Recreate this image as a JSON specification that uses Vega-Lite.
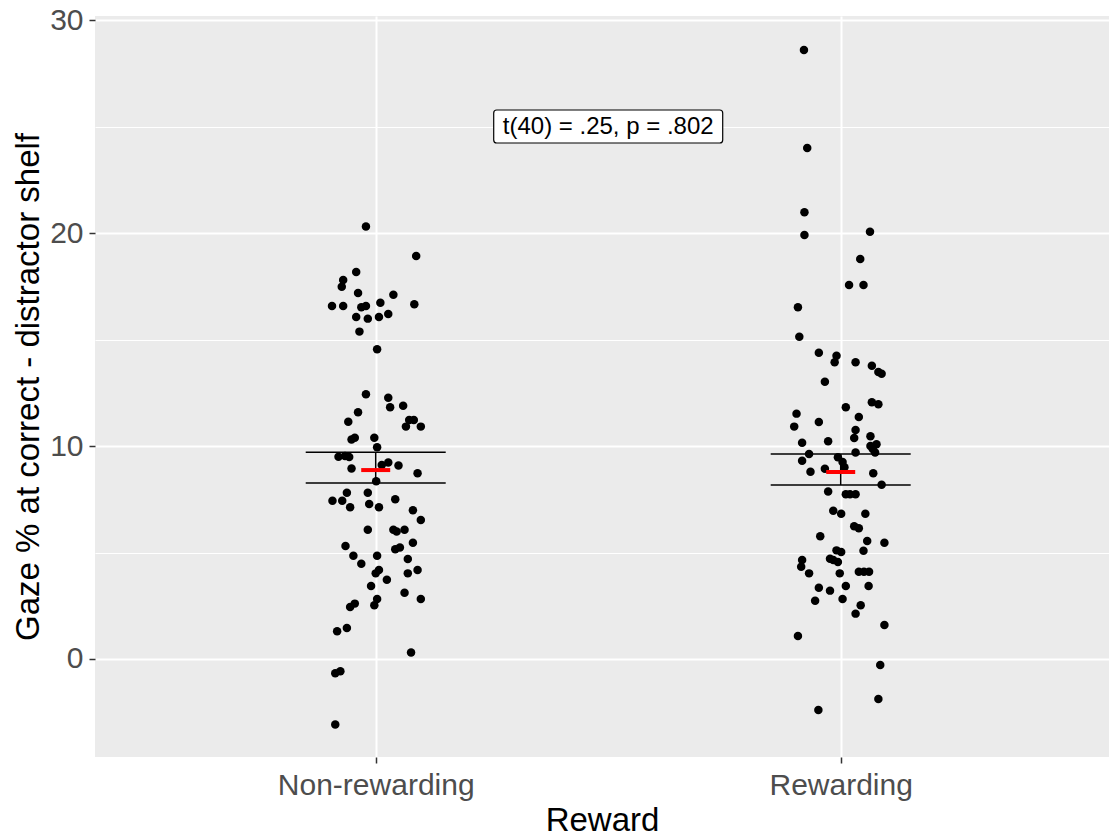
{
  "$schema": "https://vega.github.io/schema/vega-lite/v6.json",
  "width": 1014,
  "height": 741,
  "autosize": {"type": "none"},
  "padding": {"left": 95, "top": 16, "right": 0, "bottom": 79},
  "background": "white",
  "config": {
    "view": {"fill": "#EBEBEB", "stroke": null},
    "font": "Liberation Sans",
    "axis": {
      "labelFont": "Liberation Sans",
      "titleFont": "Liberation Sans",
      "labelColor": "#4D4D4D",
      "labelFontSize": 30,
      "labelLimit": 0,
      "titleFontSize": 33,
      "titleFontWeight": "normal",
      "titleColor": "#000000",
      "tickColor": "#333333",
      "tickSize": 6,
      "tickWidth": 1.5,
      "domain": false,
      "grid": true,
      "gridColor": "#FFFFFF",
      "gridWidth": 2,
      "gridOpacity": 1
    }
  },
  "datasets": {
    "gaze": [
      {"reward": "Non-rewarding", "pos": 0.979, "gaze": 20.30},
      {"reward": "Non-rewarding", "pos": 1.087, "gaze": 18.92},
      {"reward": "Non-rewarding", "pos": 0.958, "gaze": 18.17},
      {"reward": "Non-rewarding", "pos": 0.930, "gaze": 17.79},
      {"reward": "Non-rewarding", "pos": 0.927, "gaze": 17.48},
      {"reward": "Non-rewarding", "pos": 0.962, "gaze": 17.18},
      {"reward": "Non-rewarding", "pos": 1.038, "gaze": 17.10},
      {"reward": "Non-rewarding", "pos": 0.906, "gaze": 16.57},
      {"reward": "Non-rewarding", "pos": 0.930, "gaze": 16.57},
      {"reward": "Non-rewarding", "pos": 0.969, "gaze": 16.51},
      {"reward": "Non-rewarding", "pos": 0.979, "gaze": 16.57},
      {"reward": "Non-rewarding", "pos": 1.010, "gaze": 16.73},
      {"reward": "Non-rewarding", "pos": 1.083, "gaze": 16.65},
      {"reward": "Non-rewarding", "pos": 0.958, "gaze": 16.06},
      {"reward": "Non-rewarding", "pos": 0.983, "gaze": 15.98},
      {"reward": "Non-rewarding", "pos": 1.007, "gaze": 16.06},
      {"reward": "Non-rewarding", "pos": 1.027, "gaze": 16.20},
      {"reward": "Non-rewarding", "pos": 0.965, "gaze": 15.37},
      {"reward": "Non-rewarding", "pos": 1.003, "gaze": 14.54},
      {"reward": "Non-rewarding", "pos": 0.979, "gaze": 12.43},
      {"reward": "Non-rewarding", "pos": 1.027, "gaze": 12.27},
      {"reward": "Non-rewarding", "pos": 1.031, "gaze": 11.82},
      {"reward": "Non-rewarding", "pos": 1.059, "gaze": 11.89},
      {"reward": "Non-rewarding", "pos": 0.962, "gaze": 11.58},
      {"reward": "Non-rewarding", "pos": 0.941, "gaze": 11.14},
      {"reward": "Non-rewarding", "pos": 1.072, "gaze": 11.22},
      {"reward": "Non-rewarding", "pos": 1.082, "gaze": 11.22},
      {"reward": "Non-rewarding", "pos": 1.065, "gaze": 10.91},
      {"reward": "Non-rewarding", "pos": 1.097, "gaze": 10.91},
      {"reward": "Non-rewarding", "pos": 0.948, "gaze": 10.31},
      {"reward": "Non-rewarding", "pos": 0.955, "gaze": 10.39},
      {"reward": "Non-rewarding", "pos": 0.997, "gaze": 10.39},
      {"reward": "Non-rewarding", "pos": 1.003, "gaze": 9.94},
      {"reward": "Non-rewarding", "pos": 0.920, "gaze": 9.50},
      {"reward": "Non-rewarding", "pos": 0.934, "gaze": 9.53},
      {"reward": "Non-rewarding", "pos": 0.943, "gaze": 9.48},
      {"reward": "Non-rewarding", "pos": 0.948, "gaze": 8.94},
      {"reward": "Non-rewarding", "pos": 1.013, "gaze": 9.11},
      {"reward": "Non-rewarding", "pos": 1.027, "gaze": 9.23},
      {"reward": "Non-rewarding", "pos": 1.049, "gaze": 9.09},
      {"reward": "Non-rewarding", "pos": 1.090, "gaze": 8.72},
      {"reward": "Non-rewarding", "pos": 1.001, "gaze": 8.34},
      {"reward": "Non-rewarding", "pos": 0.938, "gaze": 7.81},
      {"reward": "Non-rewarding", "pos": 0.983, "gaze": 7.81},
      {"reward": "Non-rewarding", "pos": 0.907, "gaze": 7.43},
      {"reward": "Non-rewarding", "pos": 0.928, "gaze": 7.43},
      {"reward": "Non-rewarding", "pos": 1.042, "gaze": 7.50},
      {"reward": "Non-rewarding", "pos": 0.945, "gaze": 7.12},
      {"reward": "Non-rewarding", "pos": 0.986, "gaze": 7.28},
      {"reward": "Non-rewarding", "pos": 1.007, "gaze": 7.12},
      {"reward": "Non-rewarding", "pos": 1.080, "gaze": 6.98},
      {"reward": "Non-rewarding", "pos": 1.097, "gaze": 6.53},
      {"reward": "Non-rewarding", "pos": 0.983, "gaze": 6.07},
      {"reward": "Non-rewarding", "pos": 1.038, "gaze": 6.07},
      {"reward": "Non-rewarding", "pos": 1.045, "gaze": 5.99},
      {"reward": "Non-rewarding", "pos": 1.062, "gaze": 6.07},
      {"reward": "Non-rewarding", "pos": 1.080, "gaze": 5.46},
      {"reward": "Non-rewarding", "pos": 1.042, "gaze": 5.15},
      {"reward": "Non-rewarding", "pos": 1.052, "gaze": 5.24},
      {"reward": "Non-rewarding", "pos": 0.935, "gaze": 5.31},
      {"reward": "Non-rewarding", "pos": 0.952, "gaze": 4.85},
      {"reward": "Non-rewarding", "pos": 1.003, "gaze": 4.85},
      {"reward": "Non-rewarding", "pos": 1.069, "gaze": 4.69},
      {"reward": "Non-rewarding", "pos": 0.969, "gaze": 4.47},
      {"reward": "Non-rewarding", "pos": 1.007, "gaze": 4.18},
      {"reward": "Non-rewarding", "pos": 1.000, "gaze": 4.02},
      {"reward": "Non-rewarding", "pos": 1.090, "gaze": 4.18},
      {"reward": "Non-rewarding", "pos": 1.069, "gaze": 4.02},
      {"reward": "Non-rewarding", "pos": 1.024, "gaze": 3.72},
      {"reward": "Non-rewarding", "pos": 0.990, "gaze": 3.43},
      {"reward": "Non-rewarding", "pos": 1.062, "gaze": 3.11},
      {"reward": "Non-rewarding", "pos": 1.097, "gaze": 2.82},
      {"reward": "Non-rewarding", "pos": 1.003, "gaze": 2.82},
      {"reward": "Non-rewarding", "pos": 0.997, "gaze": 2.52},
      {"reward": "Non-rewarding", "pos": 0.955, "gaze": 2.60},
      {"reward": "Non-rewarding", "pos": 0.945, "gaze": 2.44},
      {"reward": "Non-rewarding", "pos": 0.938, "gaze": 1.46},
      {"reward": "Non-rewarding", "pos": 0.917, "gaze": 1.30},
      {"reward": "Non-rewarding", "pos": 1.076, "gaze": 0.31},
      {"reward": "Non-rewarding", "pos": 0.924, "gaze": -0.58},
      {"reward": "Non-rewarding", "pos": 0.913, "gaze": -0.67},
      {"reward": "Non-rewarding", "pos": 0.913, "gaze": -3.08},
      {"reward": "Rewarding", "pos": 1.921, "gaze": 28.59},
      {"reward": "Rewarding", "pos": 1.928, "gaze": 23.99},
      {"reward": "Rewarding", "pos": 1.922, "gaze": 20.97},
      {"reward": "Rewarding", "pos": 1.922, "gaze": 19.91},
      {"reward": "Rewarding", "pos": 2.063, "gaze": 20.06},
      {"reward": "Rewarding", "pos": 2.042, "gaze": 18.78},
      {"reward": "Rewarding", "pos": 2.018, "gaze": 17.56},
      {"reward": "Rewarding", "pos": 2.049, "gaze": 17.56},
      {"reward": "Rewarding", "pos": 1.908, "gaze": 16.51},
      {"reward": "Rewarding", "pos": 1.911, "gaze": 15.13},
      {"reward": "Rewarding", "pos": 1.953, "gaze": 14.38},
      {"reward": "Rewarding", "pos": 1.991, "gaze": 14.24},
      {"reward": "Rewarding", "pos": 1.987, "gaze": 13.93},
      {"reward": "Rewarding", "pos": 2.032, "gaze": 13.93},
      {"reward": "Rewarding", "pos": 2.067, "gaze": 13.77},
      {"reward": "Rewarding", "pos": 2.081, "gaze": 13.47},
      {"reward": "Rewarding", "pos": 2.088, "gaze": 13.39},
      {"reward": "Rewarding", "pos": 1.966, "gaze": 13.02},
      {"reward": "Rewarding", "pos": 2.067, "gaze": 12.05},
      {"reward": "Rewarding", "pos": 2.081, "gaze": 11.96},
      {"reward": "Rewarding", "pos": 2.011, "gaze": 11.82},
      {"reward": "Rewarding", "pos": 1.905, "gaze": 11.52},
      {"reward": "Rewarding", "pos": 2.039, "gaze": 11.36},
      {"reward": "Rewarding", "pos": 1.900, "gaze": 10.91},
      {"reward": "Rewarding", "pos": 1.953, "gaze": 11.13},
      {"reward": "Rewarding", "pos": 2.032, "gaze": 10.75},
      {"reward": "Rewarding", "pos": 2.029, "gaze": 10.38},
      {"reward": "Rewarding", "pos": 2.064, "gaze": 10.46},
      {"reward": "Rewarding", "pos": 1.917, "gaze": 10.15},
      {"reward": "Rewarding", "pos": 1.973, "gaze": 10.22},
      {"reward": "Rewarding", "pos": 2.064, "gaze": 10.00},
      {"reward": "Rewarding", "pos": 2.077, "gaze": 10.08},
      {"reward": "Rewarding", "pos": 2.069, "gaze": 9.86},
      {"reward": "Rewarding", "pos": 1.932, "gaze": 9.62},
      {"reward": "Rewarding", "pos": 2.032, "gaze": 9.70},
      {"reward": "Rewarding", "pos": 2.074, "gaze": 9.70},
      {"reward": "Rewarding", "pos": 1.917, "gaze": 9.31},
      {"reward": "Rewarding", "pos": 1.994, "gaze": 9.47},
      {"reward": "Rewarding", "pos": 2.004, "gaze": 9.25},
      {"reward": "Rewarding", "pos": 2.008, "gaze": 9.00},
      {"reward": "Rewarding", "pos": 1.966, "gaze": 8.93},
      {"reward": "Rewarding", "pos": 1.935, "gaze": 8.79},
      {"reward": "Rewarding", "pos": 2.070, "gaze": 8.72},
      {"reward": "Rewarding", "pos": 2.088, "gaze": 8.18},
      {"reward": "Rewarding", "pos": 1.973, "gaze": 7.86},
      {"reward": "Rewarding", "pos": 2.011, "gaze": 7.73},
      {"reward": "Rewarding", "pos": 2.020, "gaze": 7.73},
      {"reward": "Rewarding", "pos": 2.032, "gaze": 7.73},
      {"reward": "Rewarding", "pos": 1.984, "gaze": 6.96},
      {"reward": "Rewarding", "pos": 2.001, "gaze": 6.82},
      {"reward": "Rewarding", "pos": 2.053, "gaze": 6.82},
      {"reward": "Rewarding", "pos": 2.029, "gaze": 6.23},
      {"reward": "Rewarding", "pos": 2.039, "gaze": 6.14},
      {"reward": "Rewarding", "pos": 1.956, "gaze": 5.76},
      {"reward": "Rewarding", "pos": 2.057, "gaze": 5.54},
      {"reward": "Rewarding", "pos": 2.094, "gaze": 5.46},
      {"reward": "Rewarding", "pos": 1.991, "gaze": 5.10},
      {"reward": "Rewarding", "pos": 2.001, "gaze": 5.02},
      {"reward": "Rewarding", "pos": 2.049, "gaze": 5.08},
      {"reward": "Rewarding", "pos": 1.917, "gaze": 4.65},
      {"reward": "Rewarding", "pos": 1.977, "gaze": 4.71},
      {"reward": "Rewarding", "pos": 1.984, "gaze": 4.65},
      {"reward": "Rewarding", "pos": 1.994, "gaze": 4.55},
      {"reward": "Rewarding", "pos": 1.915, "gaze": 4.33},
      {"reward": "Rewarding", "pos": 1.932, "gaze": 4.02},
      {"reward": "Rewarding", "pos": 1.998, "gaze": 4.02},
      {"reward": "Rewarding", "pos": 2.039, "gaze": 4.10},
      {"reward": "Rewarding", "pos": 2.050, "gaze": 4.10},
      {"reward": "Rewarding", "pos": 2.061, "gaze": 4.10},
      {"reward": "Rewarding", "pos": 1.953, "gaze": 3.35},
      {"reward": "Rewarding", "pos": 1.977, "gaze": 3.21},
      {"reward": "Rewarding", "pos": 2.011, "gaze": 3.43},
      {"reward": "Rewarding", "pos": 2.060, "gaze": 3.43},
      {"reward": "Rewarding", "pos": 1.945, "gaze": 2.74},
      {"reward": "Rewarding", "pos": 2.004, "gaze": 2.82},
      {"reward": "Rewarding", "pos": 2.043, "gaze": 2.52},
      {"reward": "Rewarding", "pos": 2.032, "gaze": 2.13},
      {"reward": "Rewarding", "pos": 2.094, "gaze": 1.60},
      {"reward": "Rewarding", "pos": 1.908, "gaze": 1.08},
      {"reward": "Rewarding", "pos": 2.085, "gaze": -0.28},
      {"reward": "Rewarding", "pos": 2.081, "gaze": -1.88},
      {"reward": "Rewarding", "pos": 1.952, "gaze": -2.39}
    ],
    "summary": [
      {"reward": "Non-rewarding", "pos": 1, "mean": 8.87, "lower": 8.26, "upper": 9.71},
      {"reward": "Rewarding", "pos": 2, "mean": 8.78, "lower": 8.17, "upper": 9.62}
    ],
    "stats": [
      {"label": "t(40) = .25, p = .802"}
    ]
  },
  "resolve": {"axis": {"y": "independent"}},
  "layer": [
    {
      "data": {"name": "gaze"},
      "mark": {"type": "point", "filled": true, "color": "#000000", "opacity": 1, "size": 72},
      "encoding": {
        "x": {
          "field": "pos",
          "type": "quantitative",
          "scale": {"domain": [0.3963, 2.577], "nice": false, "zero": false},
          "axis": {
            "values": [1, 2],
            "labelExpr": "datum.value == 1 ? 'Non-rewarding' : 'Rewarding'",
            "title": "Reward",
            "labelPadding": 7,
            "titlePadding": 4
          }
        },
        "y": {
          "field": "gaze",
          "type": "quantitative",
          "scale": {"domain": [-4.601, 30.188], "nice": false, "zero": false},
          "axis": {
            "values": [0, 10, 20, 30],
            "title": "Gaze % at correct - distractor shelf",
            "labelPadding": 6,
            "titlePadding": 4
          }
        }
      }
    },
    {
      "data": {"name": "summary"},
      "mark": {"type": "rule", "color": "#000000", "strokeWidth": 1.5},
      "encoding": {
        "x": {"field": "pos", "type": "quantitative"},
        "y": {
          "field": "lower",
          "type": "quantitative",
          "axis": {
            "orient": "right",
            "values": [5, 15, 25],
            "grid": true,
            "gridWidth": 1,
            "labels": false,
            "ticks": false,
            "domain": false,
            "title": null
          }
        },
        "y2": {"field": "upper"}
      }
    },
    {
      "data": {"name": "summary"},
      "mark": {"type": "tick", "orient": "horizontal", "color": "#000000", "size": 140, "thickness": 1.5, "opacity": 1},
      "encoding": {
        "x": {"field": "pos", "type": "quantitative"},
        "y": {"field": "upper", "type": "quantitative", "axis": null}
      }
    },
    {
      "data": {"name": "summary"},
      "mark": {"type": "tick", "orient": "horizontal", "color": "#000000", "size": 140, "thickness": 1.5, "opacity": 1},
      "encoding": {
        "x": {"field": "pos", "type": "quantitative"},
        "y": {"field": "lower", "type": "quantitative", "axis": null}
      }
    },
    {
      "data": {"name": "summary"},
      "mark": {"type": "tick", "orient": "horizontal", "color": "#FF0000", "size": 29, "thickness": 4, "opacity": 1},
      "encoding": {
        "x": {"field": "pos", "type": "quantitative"},
        "y": {"field": "mean", "type": "quantitative", "axis": null}
      }
    },
    {
      "data": {"name": "stats"},
      "mark": {"type": "rect", "fill": "#FFFFFF", "stroke": "#000000", "strokeWidth": 1.2, "cornerRadius": 3, "width": 229, "height": 33},
      "encoding": {
        "x": {"datum": 1.5, "type": "quantitative"},
        "y": {"datum": 25, "type": "quantitative", "axis": null}
      }
    },
    {
      "data": {"name": "stats"},
      "mark": {"type": "text", "fontSize": 24, "color": "#000000", "align": "center", "baseline": "middle", "font": "Liberation Sans"},
      "encoding": {
        "x": {"datum": 1.5, "type": "quantitative"},
        "y": {"datum": 25, "type": "quantitative", "axis": null},
        "text": {"field": "label"}
      }
    }
  ]
}
